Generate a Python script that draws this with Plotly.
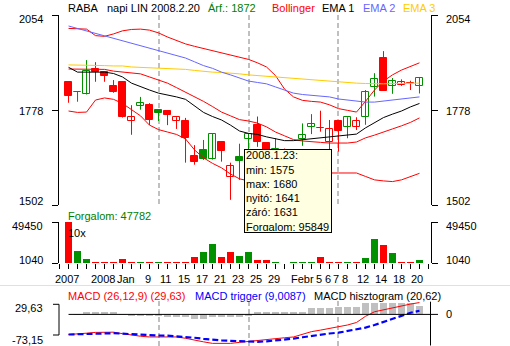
import plotly.graph_objects as go

W, H = 510, 346

ticker = "RABA"
period_label = "napi LIN 2008.2.20"

# daily OHLC, one entry per trading day (slot 0 .. 39)
opens = [1859, 1829, 1824, 1898, 1888, 1848, 1859, 1745, 1789, 1792,
         1778, 1776, 1747, 1746, 1644, 1662, 1635, 1685, 1584, 1641,
         1695, 1735, 1681, 1660, 1662, 1655, 1693, 1730, 1726, 1686,
         1746, 1728, 1728, 1757, 1844, 1930, 1848, 1850, 1857, 1848]
highs = [1860, 1831, 1923, 1917, 1890, 1865, 1860, 1792, 1816, 1798,
         1778, 1778, 1757, 1755, 1676, 1691, 1710, 1686, 1625, 1680,
         1709, 1759, 1685, 1696, 1666, 1664, 1739, 1766, 1776, 1749,
         1749, 1757, 1757, 1836, 1885, 1949, 1871, 1867, 1863, 1872]
lows = [1799, 1802, 1823, 1860, 1860, 1828, 1756, 1706, 1779, 1734,
        1746, 1734, 1723, 1625, 1619, 1633, 1634, 1628, 1517, 1575,
        1660, 1671, 1650, 1645, 1640, 1645, 1674, 1708, 1715, 1662,
        1657, 1696, 1720, 1735, 1817, 1834, 1825, 1848, 1836, 1826]
closes = [1820, 1830, 1890, 1888, 1878, 1830, 1758, 1757, 1798, 1750,
          1768, 1764, 1757, 1698, 1627, 1635, 1707, 1660, 1615, 1631,
          1708, 1686, 1662, 1665, 1655, 1660, 1705, 1737, 1727, 1722,
          1718, 1757, 1746, 1830, 1867, 1834, 1861, 1858, 1856, 1872]
prior_close = 1866

# traded volume (shares); the volume panel is drawn in units of ten
volumes = [494500, 152000, 57600, 22000, 11200, 10800, 57600, 26000, 26000, 14000,
           11000, 12000, 26000, 14000, 81000, 140000, 235000, 81000, 140000, 95849,
           140000, 46000, 46000, 14000, 10400, 11500, 26000, 12000, 81000, 26000,
           14000, 26000, 14000, 73000, 294000, 227000, 132000, 11000, 11800, 47782]
volume_unit = 10

# Bollinger bands and moving averages
bb_upper = [2015, 2015, 2013, 1994, 1992, 1999, 2008, 2012, 2013, 2010,
            2002, 1990, 1980, 1970, 1963, 1957, 1951, 1944, 1937, 1931,
            1925, 1915, 1903, 1878, 1839, 1816, 1806, 1803, 1801, 1793,
            1782, 1777, 1772, 1803, 1836, 1862, 1880, 1894, 1904, 1915]
bb_middle = [1897, 1897, 1897, 1897, 1896, 1891, 1888, 1887, 1883, 1874,
             1865, 1856, 1843, 1830, 1817, 1803, 1788, 1772, 1761, 1750,
             1746, 1740, 1729, 1714, 1703, 1692, 1688, 1685, 1684, 1682,
             1682, 1682, 1685, 1697, 1705, 1713, 1723, 1732, 1742, 1755]
bb_lower = [1775, 1771, 1772, 1807, 1813, 1809, 1797, 1778, 1761, 1734,
            1721, 1714, 1707, 1694, 1662, 1639, 1623, 1610, 1592, 1578,
            1572, 1569, 1566, 1566, 1572, 1578, 1583, 1588, 1591, 1595,
            1595, 1595, 1595, 1585, 1575, 1572, 1570, 1575, 1585, 1594]
ema1 = [1902, 1888, 1888, 1888, 1888, 1884, 1874, 1856, 1845, 1836,
        1827, 1822, 1816, 1809, 1790, 1771, 1759, 1749, 1734, 1717,
        1710, 1707, 1700, 1695, 1689, 1689, 1692, 1694, 1697, 1700,
        1703, 1705, 1708, 1726, 1742, 1756, 1766, 1775, 1787, 1797]
ema2 = [2022, 2015, 2008, 2000, 1993, 1986, 1978, 1971, 1964, 1957,
        1950, 1943, 1936, 1929, 1918, 1907, 1899, 1888, 1880, 1871,
        1862, 1858, 1854, 1845, 1836, 1827, 1823, 1820, 1817, 1816,
        1810, 1807, 1803, 1801, 1801, 1804, 1807, 1810, 1813, 1816]
ema3 = [1909, 1909, 1909, 1907, 1907, 1906, 1906, 1903, 1902, 1900,
        1900, 1899, 1897, 1896, 1893, 1890, 1888, 1887, 1886, 1883,
        1880, 1878, 1875, 1874, 1871, 1868, 1867, 1865, 1862, 1861,
        1859, 1858, 1856, 1855, 1854, 1854, 1855, 1856, 1856, 1856]

# MACD (26,12,9)
macd_line = [-50.3, -49.5, -47.0, -45.0, -44.4, -44.4, -48.2, -52.0, -54.6, -56.4,
             -56.4, -56.4, -56.4, -59.7, -64.8, -68.6, -72.4, -73.15, -72.4, -69.9,
             -67.3, -64.8, -62.2, -60.5, -58.4, -56.4, -49.5, -43.1, -39.3, -35.5,
             -30.9, -26.5, -20.2, -4.8, 6.6, 11.7, 16.8, 20.7, 25.8, 29.63]
macd_trigger = [-50.3, -49.5, -48.2, -47.0, -46.2, -47.0, -48.2, -49.5, -51.3, -52.0,
                -52.8, -53.3, -54.6, -56.4, -58.4, -61.0, -63.5, -64.8, -66.0, -66.8,
                -67.3, -68.6, -67.3, -65.6, -63.0, -60.5, -57.1, -53.8, -50.3, -47.7,
                -45.7, -41.8, -36.7, -32.9, -26.5, -18.9, -11.2, -3.6, 4.1, 9.0087]
macd_hist = [0.0, 0.5, 5.0, 5.0, 5.0, 5.0, 0.5, -4.0, -4.0, -4.0,
             -4.0, -7.0, -7.0, -7.0, -12.5, -12.5, -7.5, -7.5, -7.5, -7.5,
             -3.0, 5.0, 5.0, 5.0, 5.0, 5.0, 5.0, 15.0, 15.0, 15.0,
             19.0, 19.0, 19.0, 29.0, 29.0, 29.0, 29.0, 29.0, 29.0, 20.62]

# date axis
x_tick_labels = ["2007", "2008", "Jan", "9", "11", "15", "17", "21", "23", "25",
                 "29", "Febr", "5", "6", "7", "8", "12", "14", "18", "20"]
x_tick_slots = [0, 4, 6.65, 9, 11, 13, 15, 17, 19, 21,
                23, 26.2, 28, 29, 30, 31, 33, 35, 37, 39]
grid_slots = [10, 20, 30]

price_ticks = [2054, 1778, 1502]

hover_slot = 19
hover_date = "2008.1.23"

# ---------------------------------------------------------------- styling
UP = "#009000"
DOWN = "#ff0000"
TEXT_GREEN = "#008000"
GRID = "#c0c0c0"
FONT = "Liberation Sans, Arial, sans-serif"

n = len(closes)
xs = list(range(n))
x_range = [-1.06, n + 0.28]


def fx(px):
    return px / W


def fy(py):
    return 1 - py / H


def fmt_hu(v, digits):
    return f"{v:.{digits}f}".replace(".", ",")


prev = [prior_close] + closes[:-1]
colors = [UP if c >= p else DOWN for c, p in zip(closes, prev)]

fig = go.Figure()

# wicks
for col in (UP, DOWN):
    wx, wy = [], []
    for i in xs:
        if colors[i] == col:
            wx += [i, i, None]
            wy += [lows[i], highs[i], None]
    fig.add_trace(go.Scatter(x=wx, y=wy, mode="lines", line=dict(color=col, width=1),
                             hoverinfo="skip", xaxis="x", yaxis="y"))

# candle bodies: filled when the day closed below its open, hollow otherwise
body_base = [min(o, c) for o, c in zip(opens, closes)]
body_len = [max(abs(c - o), 0.8) for o, c in zip(opens, closes)]
body_fill = [colors[i] if closes[i] < opens[i] else "white" for i in xs]
fig.add_trace(go.Bar(x=xs, y=body_len, base=body_base, width=0.7,
                     marker=dict(color=body_fill, line=dict(color=colors, width=1)),
                     hoverinfo="skip", xaxis="x", yaxis="y"))

# indicator overlays
for series, col in ((bb_upper, "#ff0000"), (bb_middle, "#ff0000"), (bb_lower, "#ff0000"),
                    (ema3, "#ffcc00"), (ema2, "#6666ff"), (ema1, "#000000")):
    fig.add_trace(go.Scatter(x=xs, y=series, mode="lines", line=dict(color=col, width=1),
                             hoverinfo="skip", xaxis="x", yaxis="y"))

# volume
vol_scaled = [v / volume_unit for v in volumes]
fig.add_trace(go.Bar(x=xs, y=vol_scaled, width=0.78, marker=dict(color=colors, line=dict(width=0)),
                     hoverinfo="skip", xaxis="x2", yaxis="y2"))

# MACD
fig.add_trace(go.Bar(x=xs, y=macd_hist, width=0.78, marker=dict(color=GRID, line=dict(width=0)),
                     hoverinfo="skip", xaxis="x3", yaxis="y3"))
fig.add_trace(go.Scatter(x=xs, y=macd_line, mode="lines", line=dict(color="#ff0000", width=1),
                         hoverinfo="skip", xaxis="x3", yaxis="y3"))
fig.add_trace(go.Scatter(x=xs, y=macd_trigger, mode="lines",
                         line=dict(color="#0000ff", width=2.2, dash="6px,3px"),
                         hoverinfo="skip", xaxis="x3", yaxis="y3"))

vol_lo, vol_hi = min(vol_scaled), max(vol_scaled)
macd_range = [-79, 33.5]

x_dom = [fx(59), fx(431)]
bracket_axis = dict(ticks="outside", ticklen=6, tickcolor="black", tickwidth=1,
                    showline=True, linecolor="black", linewidth=1, mirror="ticks",
                    showgrid=False, zeroline=False, showticklabels=False)
grid_axis = dict(tickmode="array", tickvals=grid_slots, ticks="", showticklabels=False,
                 showgrid=True, gridcolor=GRID, gridwidth=2, griddash="5px,3px",
                 zeroline=False, showline=False)

fig.update_layout(
    width=W, height=H, margin=dict(l=0, r=0, t=0, b=0),
    paper_bgcolor="white", plot_bgcolor="white",
    showlegend=False, barmode="overlay", bargap=0,
    font=dict(family=FONT, size=11, color="black"),
    xaxis=dict(domain=x_dom, range=x_range, anchor="y", **grid_axis),
    yaxis=dict(domain=[fy(205), fy(15)], range=[min(price_ticks), max(price_ticks)],
               tickmode="array", tickvals=price_ticks, **bracket_axis),
    xaxis2=dict(domain=x_dom, range=x_range, anchor="y2", tickmode="linear", tick0=0, dtick=1,
                ticks="outside", ticklen=5, tickcolor="black", showticklabels=False,
                showgrid=False, zeroline=False, showline=False),
    yaxis2=dict(domain=[fy(263), fy(222)], range=[vol_lo, vol_hi],
                tickmode="array", tickvals=[vol_lo, vol_hi], **bracket_axis),
    xaxis3=dict(domain=x_dom, range=x_range, anchor="y3", **grid_axis),
    yaxis3=dict(domain=[0, fy(301)], range=macd_range, visible=False),
)

shapes = []
# MACD scale brackets
for x0, x1, y0, y1 in ((59, 59, 304.3, 335), (53, 59, 304.3, 304.3), (53, 59, 335, 335),
                       (430.5, 430.5, 301.7, 345.5)):
    shapes.append(dict(type="line", xref="paper", yref="paper", x0=fx(x0), x1=fx(x1),
                       y0=fy(y0), y1=fy(y1), line=dict(color="black", width=1)))
# MACD zero line and its right-hand tick
shapes.append(dict(type="line", xref="x3", yref="y3", x0=0, x1=x_range[1], y0=0, y1=0,
                   line=dict(color="black", width=1)))
shapes.append(dict(type="line", xref="paper", yref="y3", x0=fx(430.5), x1=fx(438), y0=0, y1=0,
                   line=dict(color="black", width=1)))
# separator above the MACD panel
shapes.append(dict(type="line", xref="paper", yref="paper", x0=0, x1=1, y0=fy(285.5), y1=fy(285.5),
                   line=dict(color="#e4e0d4", width=1)))
fig.update_layout(shapes=shapes)

ann = []


def text(x, y, s, color="black", xanchor="left", yanchor="middle", xref="paper", yref="paper",
         yshift=0, xshift=0):
    ann.append(dict(x=x, y=y, xref=xref, yref=yref, text=s, showarrow=False,
                    xanchor=xanchor, yanchor=yanchor, yshift=yshift, xshift=xshift,
                    font=dict(family=FONT, size=11, color=color)))


# header
header_y = fy(8.5)
text(fx(66), header_y, ticker)
text(fx(105), header_y, period_label)
text(fx(206), header_y, f"Árf.: {closes[-1]}", TEXT_GREEN)
text(fx(270), header_y, "Bollinger", "#ff0000")
text(fx(320), header_y, "EMA 1")
text(fx(361), header_y, "EMA 2", "#6666ff")
text(fx(401), header_y, "EMA 3", "#ffcc00")

# price scale labels (both sides)
price_shift = {max(price_ticks): -4, min(price_ticks): 4}
for v in price_ticks:
    s = price_shift.get(v, -1)
    text(fx(45), v, str(v), xanchor="right", yref="y", yshift=s)
    text(fx(444), v, str(v), xanchor="left", yref="y", yshift=s)

# volume panel
text(fx(66), fy(215.7), f"Forgalom: {volumes[-1]}", TEXT_GREEN)
text(fx(66), fy(233), f"{volume_unit}x")
for v, s in ((vol_hi, -4.5), (vol_lo, 3)):
    text(fx(45), v, f"{v:.0f}", xanchor="right", yref="y2", yshift=s)
    text(fx(444), v, f"{v:.0f}", xanchor="left", yref="y2", yshift=s)

# date labels
for lab, pos in zip(x_tick_labels, x_tick_slots):
    text(pos, fy(278.7), lab, xanchor="center", xref="x2", xshift=-2)

# MACD panel
macd_y = fy(295.7)
text(fx(66), macd_y, f"MACD (26,12,9) ({fmt_hu(macd_line[-1], 2)})", "#ff0000")
text(fx(193), macd_y, f"MACD trigger ({fmt_hu(macd_trigger[-1], 4)})", "#0000ff")
text(fx(312), macd_y, f"MACD hisztogram ({fmt_hu(macd_hist[-1], 2)})")
text(fx(45), fy(307.7), fmt_hu(max(macd_line), 2), xanchor="right")
text(fx(45), fy(340), fmt_hu(min(macd_line), 2), xanchor="right")
text(fx(444), 0, "0", xanchor="left", yref="y3")

# hover box for the selected day
h = hover_slot
tip = (f"{hover_date}:<br>min: {lows[h]}<br>max: {highs[h]}<br>nyitó: {opens[h]}"
       f"<br>záró: {closes[h]}<br>Forgalom: {volumes[h]}")
ann.append(dict(x=h + 0.5, xref="x", y=fy(149.3), yref="paper", text=tip, showarrow=False,
                xanchor="left", yanchor="top", align="left", valign="middle",
                width=84, height=80, bgcolor="#ffffe1", bordercolor="black",
                borderwidth=1, borderpad=1, font=dict(family=FONT, size=11, color="black")))

fig.update_layout(annotations=ann)

fig.write_html("out.html")
